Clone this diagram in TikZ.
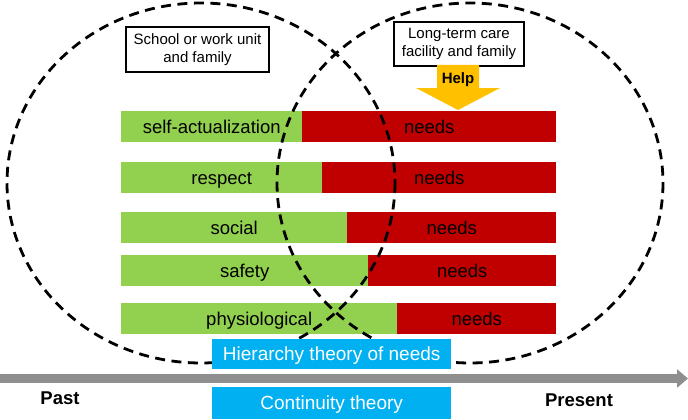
\documentclass[tikz,border=0pt]{standalone}
\usepackage{fontspec}
\setmainfont{Liberation Sans}
\usetikzlibrary{arrows.meta}
\definecolor{gbar}{HTML}{92D050}
\definecolor{rbar}{HTML}{C00000}
\definecolor{helpc}{HTML}{FFC000}
\definecolor{theoc}{HTML}{00B0F0}
\definecolor{axisc}{HTML}{8F8F8F}
\tikzset{
  barbase/.style={rectangle, inner sep=0pt, anchor=north west, minimum height=31pt,
    text height=17pt, text depth=4pt,
    font=\fontsize{18.5}{22}\selectfont, text=black},
  greenbar/.style={barbase, fill=gbar},
  redbar/.style={barbase, fill=rbar},
  circ/.style={draw=black, line width=2.8pt, dash pattern=on 10pt off 6.5pt},
  placebox/.style={draw=black, line width=2pt, fill=white, inner sep=0pt, anchor=north west,
    align=center, font=\fontsize{15}{18}\selectfont},
  theobox/.style={fill=theoc, inner sep=0pt, anchor=north west, minimum width=239pt,
    text height=17pt, text depth=4pt,
    text=white, font=\fontsize{19}{22}\selectfont},
  timetext/.style={font=\bfseries\fontsize{18.5}{22}\selectfont}
}
\begin{document}
\begin{tikzpicture}[x=1pt,y=-1pt]
\useasboundingbox (0,0) rectangle (688,420);
% bars
\node[greenbar, minimum width=181pt] (g1) at (121,111) {self-actualization};
\node[redbar, minimum width=254pt] (r1) at (302,111) {needs};
\node[greenbar, minimum width=201pt] (g2) at (121,162) {respect};
\node[redbar, minimum width=234pt] (r2) at (322,162) {needs};
\node[greenbar, minimum width=226pt] (g3) at (121,212) {social};
\node[redbar, minimum width=209pt] (r3) at (347,212) {needs};
\node[greenbar, minimum width=247pt] (g4) at (121,255) {safety};
\node[redbar, minimum width=188pt] (r4) at (368,255) {needs};
\node[greenbar, minimum width=276pt] (g5) at (121,303) {physiological};
\node[redbar, minimum width=159pt] (r5) at (397,303) {needs};
% circles
\draw[circ] (201,183) ellipse [x radius=194, y radius=180];
\draw[circ] (470,183) ellipse [x radius=193, y radius=180];
% place boxes
\node[placebox, minimum width=143pt, minimum height=45pt] (school) at (125,26) {School or work unit\\and family};
\node[placebox, minimum width=130pt, minimum height=44pt] (ltc) at (393,21) {Long-term care\\facility and family};
% help arrow
\fill[helpc] (437,65) -- (479,65) -- (479,88) -- (500,88) -- (458,110) -- (416,88) -- (437,88) -- cycle;
\node[font=\bfseries\fontsize{15}{18}\selectfont] (help) at (458,80) {Help};
% timeline
\coordinate (tl) at (0,378.5);
\coordinate (tr) at (688,378.5);
\draw[axisc, line width=9pt, -{Triangle[length=11pt, width=18pt]}] (tl) -- (tr);
% theory boxes
\node[theobox, minimum height=30pt] (hier) at (212,339) {Hierarchy theory of needs};
\node[theobox, minimum height=32pt] (cont) at (212,387) {Continuity theory};
% labels
\node[timetext] (past) at (60,398) {Past};
\node[timetext] (present) at (579,400) {Present};
\end{tikzpicture}
\end{document}
